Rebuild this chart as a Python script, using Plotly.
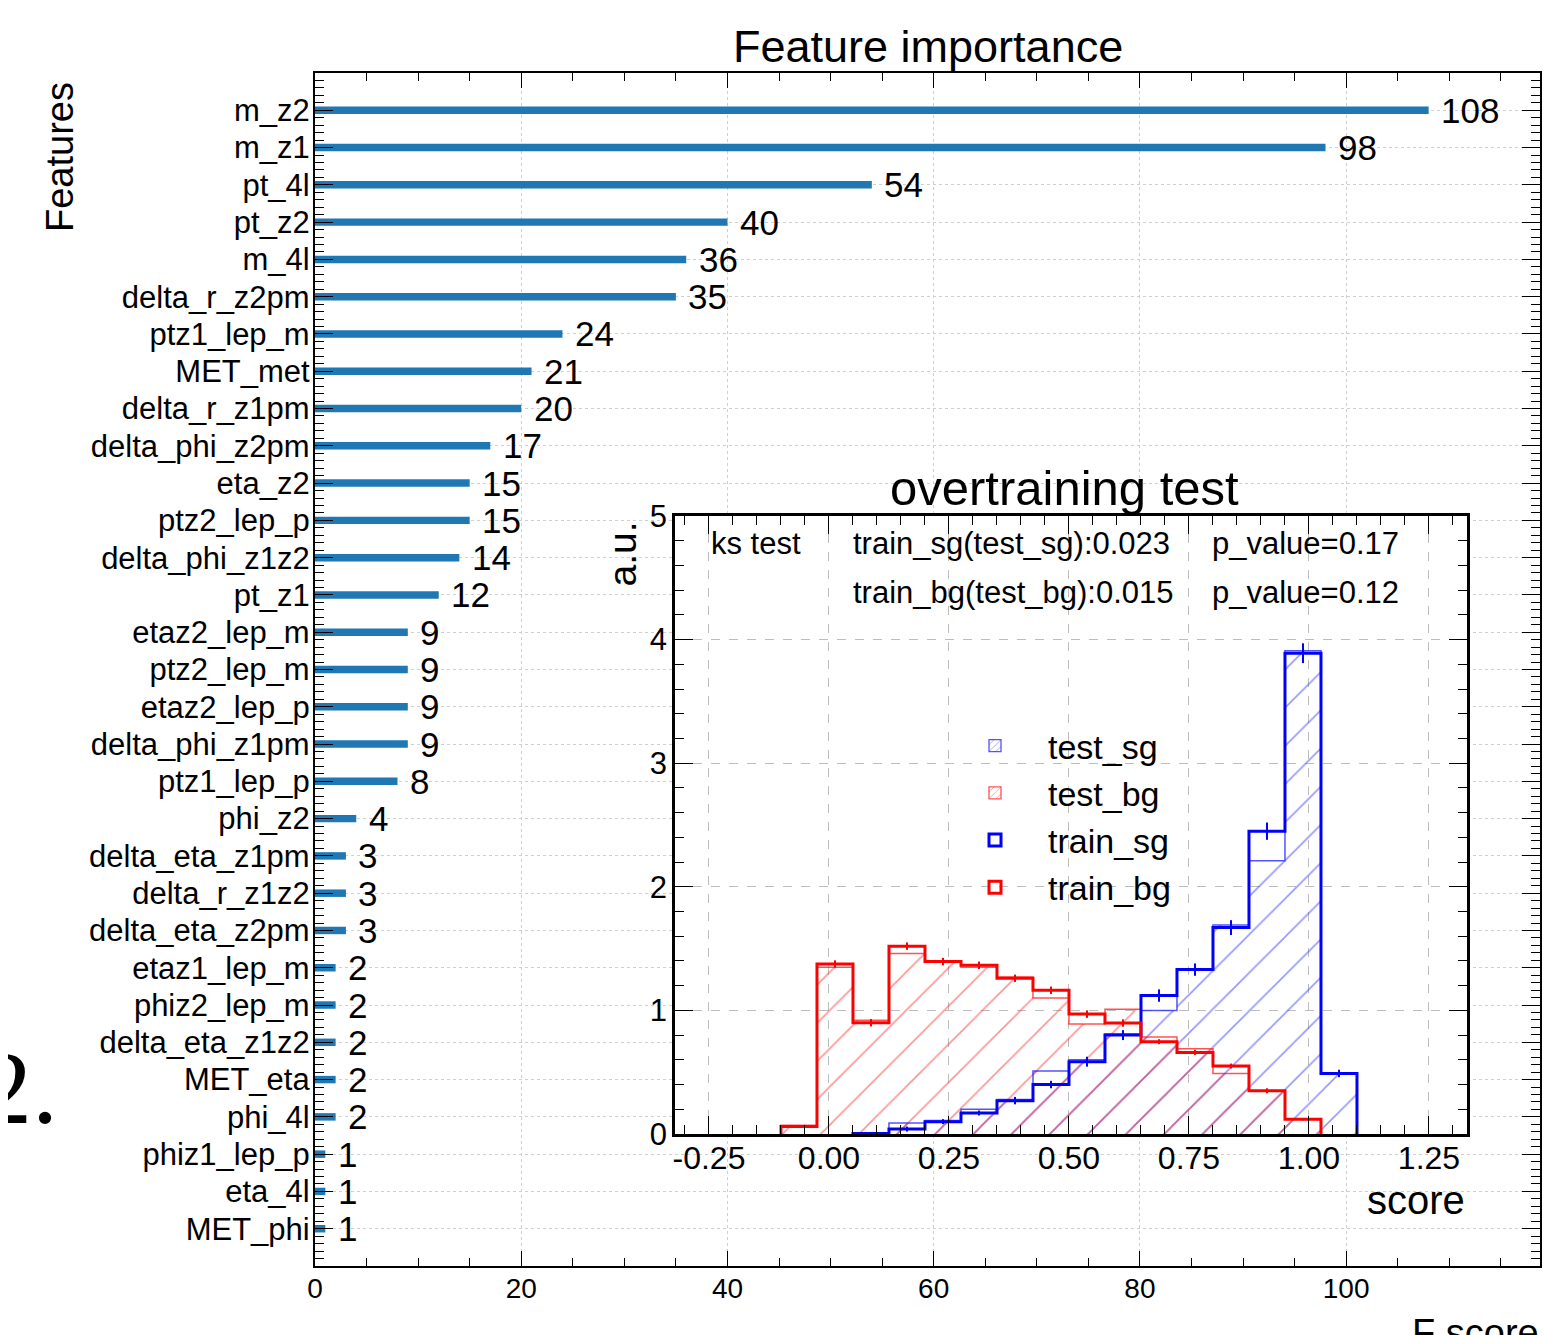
import plotly.graph_objects as go

# ---------------- canvas / layout helpers ----------------
OFF = 8                      # page body margin of the browser
W, H = 1554, 1327
ML, MR, MT, MB = 307, 22, 65, 69
PW = W - ML - MR
PH = H - MT - MB


def px(x):
    """screen x (reference pixels) -> paper fraction"""
    return (x - OFF - ML) / PW


def py(y):
    """screen y (reference pixels) -> paper fraction"""
    return (H - MB - (y - OFF)) / PH


# ---------------- data: feature importance ----------------
features = ["m_z2", "m_z1", "pt_4l", "pt_z2", "m_4l", "delta_r_z2pm", "ptz1_lep_m",
            "MET_met", "delta_r_z1pm", "delta_phi_z2pm", "eta_z2", "ptz2_lep_p",
            "delta_phi_z1z2", "pt_z1", "etaz2_lep_m", "ptz2_lep_m", "etaz2_lep_p",
            "delta_phi_z1pm", "ptz1_lep_p", "phi_z2", "delta_eta_z1pm", "delta_r_z1z2",
            "delta_eta_z2pm", "etaz1_lep_m", "phiz2_lep_m", "delta_eta_z1z2", "MET_eta",
            "phi_4l", "phiz1_lep_p", "eta_4l", "MET_phi"]
fscores = [108, 98, 54, 40, 36, 35, 24, 21, 20, 17, 15, 15, 14, 12, 9, 9, 9, 9, 8,
           4, 3, 3, 3, 2, 2, 2, 2, 2, 1, 1, 1]

# ---------------- data: overtraining test ----------------
bin_edges = [-0.1, -0.025, 0.05, 0.125, 0.2, 0.275, 0.35, 0.425, 0.5, 0.575,
             0.65, 0.725, 0.8, 0.875, 0.95, 1.025, 1.1]
train_sg = [0, 0, 0.005, 0.04, 0.10, 0.17, 0.27, 0.40, 0.585, 0.80, 1.12, 1.33, 1.67, 2.45, 3.89, 0.49]
test_sg = [0, 0, 0.01, 0.09, 0.11, 0.20, 0.28, 0.51, 0.60, 0.81, 1.00, 1.33, 1.69, 2.21, 3.91, 0.49]
train_bg = [0.06, 1.375, 0.90, 1.52, 1.395, 1.365, 1.26, 1.163, 0.97, 0.898, 0.747, 0.66, 0.55, 0.35, 0.12, 0]
test_bg = [0.07, 1.35, 0.92, 1.46, 1.39, 1.35, 1.27, 1.10, 0.89, 1.01, 0.785, 0.69, 0.49, 0.35, 0.12, 0]
train_sg_err = [0, 0, 0.01, 0.02, 0.02, 0.02, 0.03, 0.03, 0.04, 0.04, 0.05, 0.05, 0.06, 0.07, 0.08, 0.03]
train_bg_err = [0.01, 0.03, 0.03, 0.03, 0.03, 0.03, 0.03, 0.03, 0.03, 0.03, 0.02, 0.02, 0.02, 0.02, 0.01, 0]

score_ticks = [-0.25, 0.0, 0.25, 0.5, 0.75, 1.0, 1.25]
score_ticklabels = ["-0.25", "0.00", "0.25", "0.50", "0.75", "1.00", "1.25"]

ks_row1 = ["ks test", "train_sg(test_sg):0.023", "p_value=0.17"]
ks_row2 = ["", "train_bg(test_bg):0.015", "p_value=0.12"]

FONT = "Liberation Sans, Arial, Helvetica, sans-serif"
BLUE = "#0000ff"
RED = "#ff0000"
BLUE_T = "rgba(40,40,255,0.8)"
RED_T = "rgba(255,40,40,0.8)"
BLUE_H = "rgb(45,45,255)"
RED_H = "rgb(255,40,40)"

n = len(features)
ypos = [n - 1 - i for i in range(n)]

centers = [(a + b) / 2 for a, b in zip(bin_edges[:-1], bin_edges[1:])]
widths = [b - a for a, b in zip(bin_edges[:-1], bin_edges[1:])]


def step_xy(vals):
    nz = [i for i, v in enumerate(vals) if v > 0]
    i0, i1 = nz[0], nz[-1]
    xs = [bin_edges[i0]] + [bin_edges[i] for i in range(i0, i1 + 1)] + [bin_edges[i1 + 1]]
    ys = [0] + [vals[i] for i in range(i0, i1 + 1)] + [0]
    return xs, ys


fig = go.Figure()

# main bars
fig.add_trace(go.Bar(x=fscores, y=ypos, orientation="h", width=0.2,
                     marker=dict(color="#1f77b4", line=dict(width=0)),
                     showlegend=False, xaxis="x", yaxis="y"))

# hatched test histograms (area)
for vals, col in [(test_sg, BLUE_H), (test_bg, RED_H)]:
    fig.add_trace(go.Bar(x=centers, y=vals, width=widths, showlegend=False,
                         marker=dict(color="rgba(0,0,0,0)", line=dict(width=0),
                                     pattern=dict(shape="/", fgcolor=col, bgcolor="rgba(0,0,0,0)",
                                                  size=27, solidity=0.058)),
                         xaxis="x2", yaxis="y2"))

# thin outline of test histograms
for vals, col in [(test_sg, BLUE_T), (test_bg, RED_T)]:
    xs, ys = step_xy(vals)
    fig.add_trace(go.Scatter(x=xs, y=ys, mode="lines", line=dict(shape="hv", color=col, width=1.5),
                             showlegend=False, hoverinfo="skip", xaxis="x2", yaxis="y2"))

# train step lines
for vals, col in [(train_sg, BLUE), (train_bg, RED)]:
    xs, ys = step_xy(vals)
    fig.add_trace(go.Scatter(x=xs, y=ys, mode="lines", line=dict(shape="hv", color=col, width=3),
                             showlegend=False, xaxis="x2", yaxis="y2"))

# error bars on train histograms
for vals, errs, col in [(train_sg, train_sg_err, BLUE), (train_bg, train_bg_err, RED)]:
    idx = [i for i, v in enumerate(vals) if v > 0]
    fig.add_trace(go.Scatter(x=[centers[i] for i in idx], y=[vals[i] for i in idx], mode="markers",
                             marker=dict(size=2, color=col),
                             error_y=dict(type="data", array=[errs[i] for i in idx], width=0,
                                          thickness=2, color=col),
                             showlegend=False, xaxis="x2", yaxis="y2"))

# legend entries (boxes like the ROOT-style legend)
legend_entries = [("test_sg", BLUE_T, 1.3, True), ("test_bg", RED_T, 1.3, True),
                  ("train_sg", BLUE, 3, False), ("train_bg", RED, 3, False)]
for name, col, lw, hatched in legend_entries:
    mk = dict(color="rgba(0,0,0,0)", line=dict(width=lw, color=col))
    if hatched:
        mk["pattern"] = dict(shape="/", fgcolor=col, bgcolor="rgba(0,0,0,0)", size=6, solidity=0.2)
    fig.add_trace(go.Bar(x=[None], y=[None], name=name, legendgroup=name, marker=mk,
                         xaxis="x2", yaxis="y2"))

annotations = []
# value labels
for v, p in zip(fscores, ypos):
    annotations.append(dict(x=v + 1, y=p, xref="x", yref="y", text=str(v), showarrow=False,
                            xanchor="left", yanchor="middle", font=dict(size=35, color="black")))

annotations += [
    dict(x=px(928), y=py(47), xref="paper", yref="paper", text="Feature importance", showarrow=False,
         xanchor="center", yanchor="middle", font=dict(size=45, color="black")),
    dict(x=px(60), y=py(80), xref="paper", yref="paper", text="Features", showarrow=False,
         textangle=-90, xanchor="center", yanchor="top", font=dict(size=38, color="black")),
    dict(x=px(1541), y=py(1310), xref="paper", yref="paper", text="F score", showarrow=False,
         xanchor="right", yanchor="top", font=dict(size=38, color="black")),
    dict(x=px(1064), y=py(488), xref="paper", yref="paper", text="overtraining test", showarrow=False,
         xanchor="center", yanchor="middle", font=dict(size=49, color="black")),
    dict(x=px(622), y=py(520), xref="paper", yref="paper", text="a.u.", showarrow=False,
         textangle=-90, xanchor="center", yanchor="top", font=dict(size=39, color="black")),
    dict(x=px(1467), y=py(1200), xref="paper", yref="paper", text="score", showarrow=False,
         xanchor="right", yanchor="middle", font=dict(size=40, color="black")),
    dict(x=px(60), y=py(1087), xref="paper", yref="paper", text="2.", showarrow=False,
         xanchor="right", yanchor="middle",
         font=dict(size=104, color="black", family="Liberation Serif, DejaVu Serif, serif")),
]

ks_x = [709, 851, 1210]
for row, yy in [(ks_row1, 543), (ks_row2, 592)]:
    for txt, xx in zip(row, ks_x):
        if txt:
            annotations.append(dict(x=px(xx), y=py(yy), xref="paper", yref="paper", text=txt,
                                    showarrow=False, xanchor="left", yanchor="middle",
                                    font=dict(size=31, color="black")))

axis_common = dict(showline=True, linecolor="black", mirror="allticks", ticks="inside",
                   tickcolor="black", zeroline=False, color="black")

fig.update_layout(
    width=W, height=H,
    margin=dict(l=ML, r=MR, t=MT, b=MB, pad=0),
    paper_bgcolor="white", plot_bgcolor="white",
    font=dict(family=FONT, color="black"),
    barmode="overlay",
    annotations=annotations,
    xaxis=dict(domain=[0, 1], anchor="y", range=[0, 118.8], dtick=20, tick0=0,
               linewidth=2.2, ticklen=15, tickwidth=1.3,
               tickfont=dict(size=28), ticklabelstandoff=-4,
               showgrid=True, gridcolor="#cfcfcf", griddash="dot", gridwidth=1,
               minor=dict(ticks="inside", ticklen=8, dtick=5, tick0=0, tickcolor="black",
                          tickwidth=1, showgrid=False),
               **axis_common),
    yaxis=dict(domain=[0, 1], anchor="x", range=[-1, n], tickmode="array",
               tickvals=ypos, ticktext=features,
               linewidth=2.2, ticklen=18, tickwidth=1.3,
               tickfont=dict(size=31), ticklabelstandoff=-3,
               showgrid=True, gridcolor="#cfcfcf", griddash="dot", gridwidth=1,
               minor=dict(ticks="inside", ticklen=9, dtick=0.2, tick0=0, tickcolor="black",
                          tickwidth=1, showgrid=False),
               **axis_common),
    xaxis2=dict(domain=[px(675), px(1467)], anchor="y2", range=[-0.3208, 1.3292],
                tickmode="array", tickvals=score_ticks, ticktext=score_ticklabels,
                linewidth=2.5, ticklen=18, tickwidth=1.3,
                tickfont=dict(size=32), ticklabelstandoff=-6,
                showgrid=True, gridcolor="#bdbdbd", griddash="dash", gridwidth=1,
                minor=dict(ticks="inside", ticklen=9, dtick=0.05, tick0=0, tickcolor="black",
                           tickwidth=1, showgrid=False),
                **axis_common),
    yaxis2=dict(domain=[py(1134), py(516)], anchor="x2", range=[0, 5], dtick=1, tick0=0,
                linewidth=2.5, ticklen=18, tickwidth=1.3,
                tickfont=dict(size=31), ticklabelstandoff=-1,
                showgrid=True, gridcolor="#bdbdbd", griddash="dash", gridwidth=1,
                minor=dict(ticks="inside", ticklen=9, dtick=0.2, tick0=0, tickcolor="black",
                           tickwidth=1, showgrid=False),
                **axis_common),
    legend=dict(x=px(942), y=py(717), xanchor="left", yanchor="top", bgcolor="rgba(0,0,0,0)",
                font=dict(size=34, color="black"), tracegroupgap=16, itemwidth=96,
                traceorder="normal"),
)

fig.write_html("out.html")
